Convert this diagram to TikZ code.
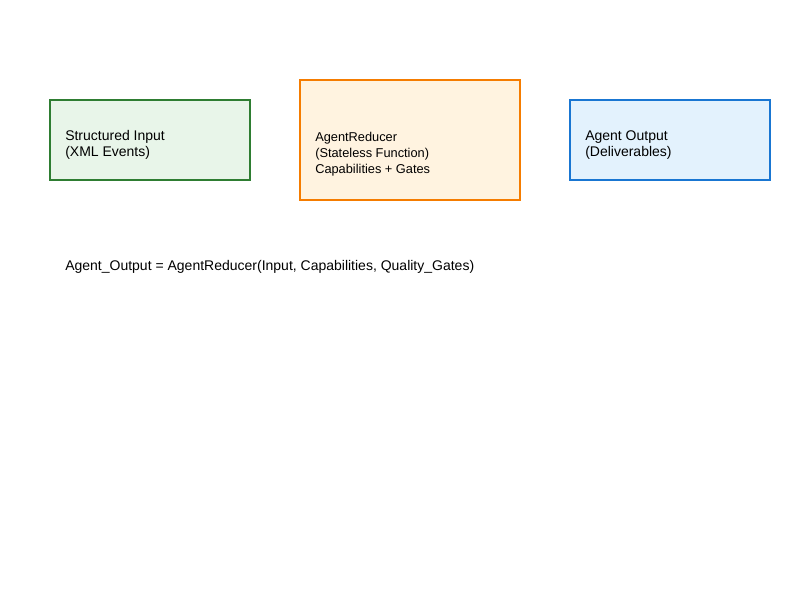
\documentclass[tikz,border=0pt]{standalone}
\usepackage{fontspec}
\setmainfont{Liberation Sans}
\definecolor{gstroke}{HTML}{2E7D32}
\definecolor{gfill}{HTML}{E8F5E9}
\definecolor{ostroke}{HTML}{F57C00}
\definecolor{ofill}{HTML}{FFF3E0}
\definecolor{bstroke}{HTML}{1976D2}
\definecolor{bfill}{HTML}{E3F2FD}
\tikzset{
  box/.style={draw, line width=1.5pt, rectangle, inner sep=0pt},
  lbl/.style={anchor=west, align=left, inner sep=0pt, font=\fontsize{10.5pt}{12pt}\selectfont, text=black},
  lblsmall/.style={lbl, font=\fontsize{9.6pt}{12pt}\selectfont}
}
\begin{document}
\begin{tikzpicture}[x=0.75pt,y=-0.75pt]
\useasboundingbox (0,0) rectangle (800,600);
\node[box, draw=gstroke, fill=gfill, minimum width=150pt, minimum height=60pt] (inp) at (150,140) {};
\node[box, draw=ostroke, fill=ofill, minimum width=165pt, minimum height=90pt] (red) at (410,140) {};
\node[box, draw=bstroke, fill=bfill, minimum width=150pt, minimum height=60pt] (out) at (670,140) {};
\node[lbl] (tinp) at (65,145) {Structured Input\\(XML Events)};
\node[lblsmall] (tred) at (315,154) {AgentReducer\\(Stateless Function)\\Capabilities + Gates};
\node[lbl] (tout) at (585,145) {Agent Output\\(Deliverables)};
\node[lbl] (formula) at (65,267) {Agent\_Output = AgentReducer(Input, Capabilities, Quality\_Gates)};
\end{tikzpicture}
\end{document}
